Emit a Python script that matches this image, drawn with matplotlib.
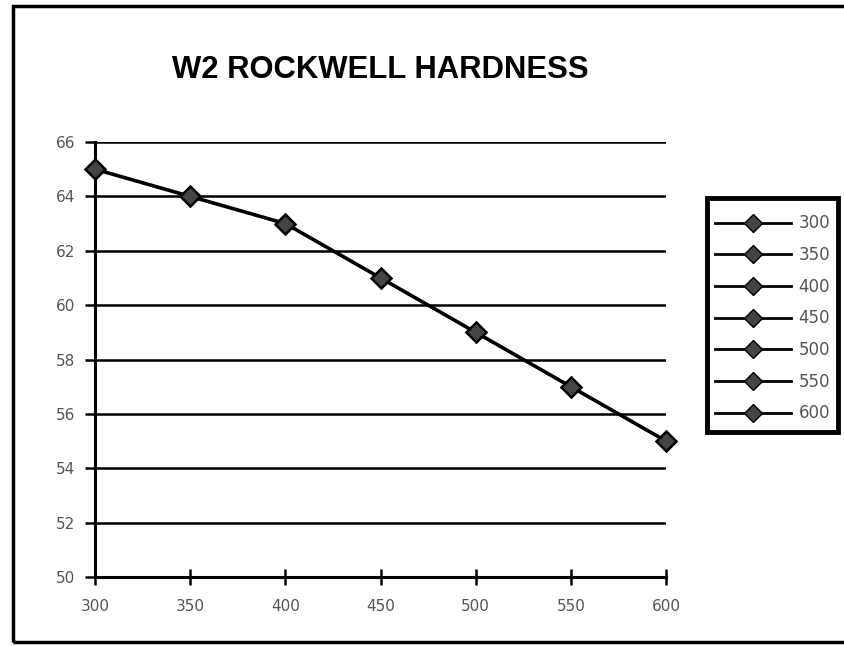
import matplotlib
matplotlib.use("Agg")
import matplotlib.pyplot as plt
from matplotlib.lines import Line2D
from matplotlib.patches import Rectangle

temps = [300, 350, 400, 450, 500, 550, 600]
hardness = [65, 64, 63, 61, 59, 57, 55]
legend_labels = ["300", "350", "400", "450", "500", "550", "600"]
yticks = [50, 52, 54, 56, 58, 60, 62, 64, 66]

plt.rcParams['font.family'] = ['DejaVu Sans']

fig = plt.figure(figsize=(8.44, 6.46), dpi=100)
ax = fig.add_axes([95 / 844, 1 - 577 / 646, (666 - 95) / 844, (577 - 142) / 646])

ax.plot(temps, hardness, color='black', lw=2.6, marker='D', ms=10,
        markerfacecolor='#444444', markeredgecolor='black', markeredgewidth=1.8,
        zorder=5, clip_on=False)

ax.set_xlim(300, 600)
ax.set_ylim(50, 66)
ax.set_xticks(temps)
ax.set_yticks(yticks)
ax.yaxis.grid(True, color='black', lw=1.8)
ax.set_axisbelow(True)
for s in ['top', 'right']:
    ax.spines[s].set_visible(False)
for s in ['left', 'bottom']:
    ax.spines[s].set_linewidth(2.2)
ax.tick_params(axis='y', direction='out', length=7, width=1.8, colors='black',
               labelcolor='#555555', labelsize=11, pad=7)
ax.tick_params(axis='x', direction='inout', length=11, width=1.8, colors='black',
               labelcolor='#555555', labelsize=11, pad=10)

fig.text(380 / 844, 1 - 70 / 646, "W2 ROCKWELL HARDNESS", ha='center', va='center',
         fontsize=22.3, fontweight='bold', family='Liberation Sans')

handles = [Line2D([0], [0], color='black', lw=2.0, marker='D', ms=9,
                  markerfacecolor='#444444', markeredgecolor='black')
           for _ in legend_labels]
leg = fig.legend(handles, legend_labels, loc='upper left',
                 bbox_to_anchor=(707 / 844, 1 - 207 / 646), frameon=False,
                 fontsize=12, labelspacing=0.82, handlelength=4.6,
                 borderpad=0.45, handletextpad=0.45, borderaxespad=0)
for t in leg.get_texts():
    t.set_color('#555555')

# legend box
fig.patches.append(Rectangle((707 / 844, 1 - 432 / 646), (838 - 707) / 844,
                             (432 - 198) / 646, transform=fig.transFigure,
                             fill=False, edgecolor='black', lw=3.5))

# outer chart frame
fig.patches.append(Rectangle((13 / 844, 1 - 642 / 646), 900 / 844, (642 - 6) / 646,
                             transform=fig.transFigure, fill=False,
                             edgecolor='black', lw=2.5))

fig.savefig("out.png", dpi=100)
